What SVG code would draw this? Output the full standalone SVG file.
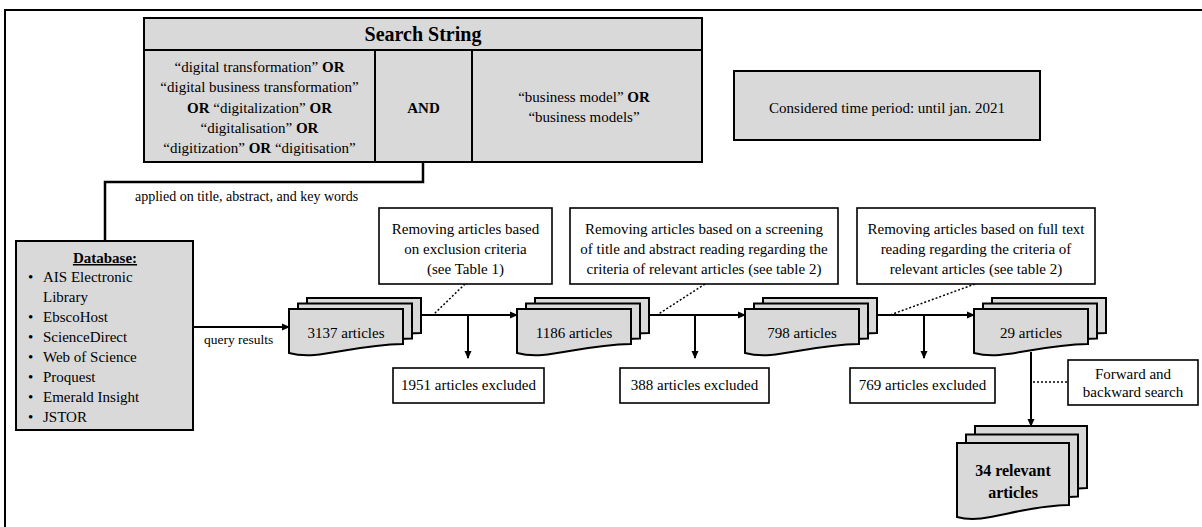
<svg xmlns="http://www.w3.org/2000/svg" width="1202" height="527" viewBox="0 0 1202 527">
<style>
text{font-family:"Liberation Serif","Times New Roman",serif;font-size:15px;fill:#000}
.c{text-anchor:middle}
.b{font-weight:bold}
.g{fill:#d9d9d9;stroke:#000;stroke-width:2}
.w{fill:#fff;stroke:#000;stroke-width:1.6}
.ln{fill:none;stroke:#000;stroke-width:2}
.dot{fill:none;stroke:#000;stroke-width:1.5;stroke-dasharray:2 2}
</style>
<defs>
<marker id="ah" markerWidth="8" markerHeight="8" refX="7" refY="4" orient="auto" markerUnits="userSpaceOnUse">
<path d="M0,0.5 L8,4 L0,7.5 Z" fill="#000"/>
</marker>
<path id="docS" d="M0,0 H114 V35 C60,36 30,52 0,44 Z" class="g"/>
<path id="docL" d="M0,0 H112 V62 C59,63 29,82 0,74 Z" class="g"/>
</defs>
<rect width="1202" height="527" fill="#fff"/>
<path d="M5,527 V10 H1202" fill="none" stroke="#000" stroke-width="2"/>

<g id="search-string">
<rect x="144" y="18" width="558" height="144" class="g"/>
<line x1="144" y1="50" x2="702" y2="50" class="ln"/>
<line x1="375" y1="50" x2="375" y2="162" class="ln"/>
<line x1="472" y1="50" x2="472" y2="162" class="ln"/>
<text x="423" y="41" class="c b" style="font-size:20px">Search String</text>
<text x="259.5" y="72" class="c">“digital transformation” <tspan class="b">OR</tspan></text>
<text x="259.5" y="92" class="c">“digital business transformation”</text>
<text x="259.5" y="113" class="c"><tspan class="b">OR</tspan> “digitalization” <tspan class="b">OR</tspan></text>
<text x="259.5" y="133" class="c">“digitalisation” <tspan class="b">OR</tspan></text>
<text x="259.5" y="153" class="c">“digitization” <tspan class="b">OR</tspan> “digitisation”</text>
<text x="423.5" y="113" class="c b">AND</text>
<text x="584" y="102" class="c">“business model” <tspan class="b">OR</tspan></text>
<text x="584" y="122" class="c">“business models”</text>
</g>

<g id="time-period">
<rect x="734" y="71" width="306" height="69" class="g"/>
<text x="887" y="113" class="c">Considered time period: until jan. 2021</text>
</g>

<g id="database">
<rect x="16" y="241" width="177" height="189" class="g"/>
<text x="105" y="263" class="c b" text-decoration="underline">Database:</text>
<text x="28" y="282">•</text><text x="43" y="282">AIS Electronic</text>
<text x="43" y="302">Library</text>
<text x="28" y="322">•</text><text x="43" y="322">EbscoHost</text>
<text x="28" y="342">•</text><text x="43" y="342">ScienceDirect</text>
<text x="28" y="362">•</text><text x="43" y="362">Web of Science</text>
<text x="28" y="382">•</text><text x="43" y="382">Proquest</text>
<text x="28" y="402">•</text><text x="43" y="402">Emerald Insight</text>
<text x="28" y="422">•</text><text x="43" y="422">JSTOR</text>
</g>

<g id="connectors">
<polyline points="423,162 423,182 105,182 105,241" fill="none" stroke="#000" stroke-width="2.5"/>
<text x="135" y="201" style="font-size:14px">applied on title, abstract, and key words</text>
<line x1="193" y1="327" x2="289" y2="327" class="ln" marker-end="url(#ah)"/>
<text x="204" y="344" style="font-size:13.5px">query results</text>
<line x1="421" y1="315" x2="517" y2="315" class="ln" marker-end="url(#ah)"/>
<line x1="649" y1="315" x2="745" y2="315" class="ln" marker-end="url(#ah)"/>
<line x1="877" y1="315" x2="974" y2="315" class="ln" marker-end="url(#ah)"/>
<line x1="468" y1="315" x2="468" y2="358" class="ln" marker-end="url(#ah)"/>
<line x1="695" y1="315" x2="695" y2="358" class="ln" marker-end="url(#ah)"/>
<line x1="924" y1="315" x2="924" y2="358" class="ln" marker-end="url(#ah)"/>
<line x1="1031" y1="352" x2="1031" y2="426" class="ln" marker-end="url(#ah)"/>
<line x1="465" y1="284" x2="433" y2="315" class="dot"/>
<line x1="705" y1="284" x2="657" y2="315" class="dot"/>
<line x1="975" y1="284" x2="890" y2="315" class="dot"/>
<line x1="1033" y1="382" x2="1068" y2="382" class="dot"/>
</g>

<g id="docs-3137">
<use href="#docS" x="307" y="298"/><use href="#docS" x="298" y="303.5"/><use href="#docS" x="289" y="309"/>
<text x="346" y="338" class="c">3137 articles</text>
</g>
<g id="docs-1186">
<use href="#docS" x="535" y="298"/><use href="#docS" x="526" y="303.5"/><use href="#docS" x="517" y="309"/>
<text x="574" y="338" class="c">1186 articles</text>
</g>
<g id="docs-798">
<use href="#docS" x="763" y="298"/><use href="#docS" x="754" y="303.5"/><use href="#docS" x="745" y="309"/>
<text x="802" y="338" class="c">798 articles</text>
</g>
<g id="docs-29">
<use href="#docS" x="992" y="298"/><use href="#docS" x="983" y="303.5"/><use href="#docS" x="974" y="309"/>
<text x="1031" y="338" class="c">29 articles</text>
</g>
<g id="docs-34">
<use href="#docL" x="975" y="426"/><use href="#docL" x="966" y="434.5"/><use href="#docL" x="957" y="443"/>
<text x="1013" y="476" class="c b" style="font-size:16px">34 relevant</text>
<text x="1013" y="498" class="c b" style="font-size:16px">articles</text>
</g>

<g id="note-exclusion">
<rect x="379" y="208" width="173" height="76" class="w"/>
<text x="465.5" y="234" class="c">Removing articles based</text>
<text x="465.5" y="254" class="c">on exclusion criteria</text>
<text x="465.5" y="274" class="c">(see Table 1)</text>
</g>
<g id="note-screening">
<rect x="570" y="208" width="268" height="76" class="w"/>
<text x="704" y="234" class="c">Removing articles based on a screening</text>
<text x="704" y="254" class="c">of title and abstract reading regarding the</text>
<text x="704" y="274" class="c">criteria of relevant articles (see table 2)</text>
</g>
<g id="note-fulltext">
<rect x="857" y="208" width="238" height="76" class="w"/>
<text x="976" y="234" class="c">Removing articles based on full text</text>
<text x="976" y="254" class="c">reading regarding the criteria of</text>
<text x="976" y="274" class="c">relevant articles (see table 2)</text>
</g>
<g id="excluded-1951">
<rect x="393" y="368" width="151" height="35" class="w"/>
<text x="468.5" y="390" class="c">1951 articles excluded</text>
</g>
<g id="excluded-388">
<rect x="620" y="368" width="149" height="35" class="w"/>
<text x="694.5" y="390" class="c">388 articles excluded</text>
</g>
<g id="excluded-769">
<rect x="850" y="368" width="145" height="35" class="w"/>
<text x="922.5" y="390" class="c">769 articles excluded</text>
</g>
<g id="note-forward">
<rect x="1068" y="360" width="130" height="45" class="w"/>
<text x="1133" y="379" class="c">Forward and</text>
<text x="1133" y="397" class="c">backward search</text>
</g>
</svg>
